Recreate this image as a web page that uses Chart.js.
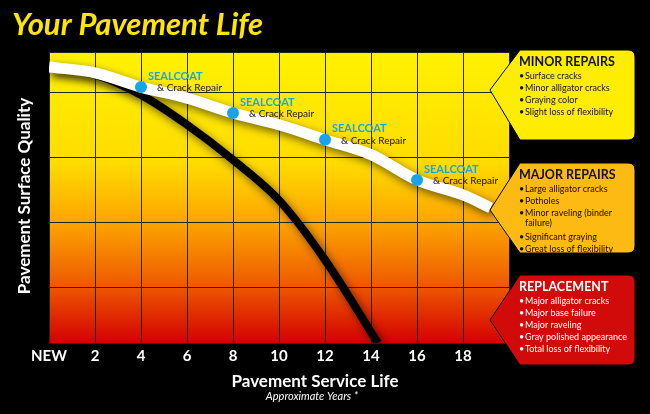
<!DOCTYPE html>
<html><head><meta charset="utf-8">
<script src="https://cdn.jsdelivr.net/npm/chart.js@4"></script>
<style>html,body{margin:0;background:#000}#c{display:block}</style>
</head><body>
<canvas id="c" width="650" height="414"></canvas>
<script>
const treatedYears = [0,2,4,6,8,10,12,14,16,18,19.2];
const treatedQuality = [3.40,3.31,3.09,2.92,2.69,2.51,2.28,2.05,1.66,1.43,1.23];
const untreatedYears = [0,2,4,6,8,10,12,14.3];
const untreatedQuality = [3.40,3.28,2.97,2.51,1.97,1.35,0.43,-0.85];
const sealcoatYears = [4,8,12,16];
const sealcoatQuality = [3.09,2.69,2.28,1.66];
const xTickLabels = {0:'NEW',2:'2',4:'4',6:'6',8:'8',10:'10',12:'12',14:'14',16:'16',18:'18'};
const boxes = [
 {title:'MINOR REPAIRS', items:['Surface cracks','Minor alligator cracks','Graying color','Slight loss of flexibility'], fill:'#ffed00', text:'#111', y0:50, y1:140, tip:90},
 {title:'MAJOR REPAIRS', items:['Large alligator cracks','Potholes','Minor raveling (binder','failure)','Significant graying','Great loss of flexibility'], fill:'#fdba12', text:'#111', y0:163, y1:253, tip:210},
 {title:'REPLACEMENT', items:['Major alligator cracks','Major base failure','Major raveling','Gray polished appearance','Total loss of flexibility'], fill:'#d10a0a', text:'#fff', y0:275, y1:365, tip:320}
];
const F = 'Lato, "Open Sans", sans-serif';
const pts = (xs,ys)=>xs.map((x,i)=>({x,y:ys[i]}));

const deco = {
 id:'deco',
 beforeDraw(ch){
  const c=ch.ctx, a=ch.chartArea;
  c.save(); c.fillStyle='#000'; c.fillRect(0,0,ch.width,ch.height);
  const g=c.createLinearGradient(0,a.top,0,a.bottom);
  g.addColorStop(0,'#fff200'); g.addColorStop(0.38,'#ffdc00'); g.addColorStop(0.6,'#fca000');
  g.addColorStop(0.8,'#ee5a00'); g.addColorStop(1,'#d40000');
  c.fillStyle=g; c.fillRect(a.left,a.top,a.right-a.left,a.bottom-a.top);
  c.restore();
 },
 beforeDatasetDraw(ch,args){
  const c=ch.ctx; c.save();
  if(args.index<2){c.shadowColor='rgba(0,0,0,0.55)';c.shadowBlur=8;c.shadowOffsetX=3;c.shadowOffsetY=4;}
 },
 afterDatasetDraw(ch){ch.ctx.restore();},
 afterDraw(ch){
  const c=ch.ctx, xs=ch.scales.x, ys=ch.scales.y;
  c.save();
  // sealcoat labels
  sealcoatYears.forEach((yr,i)=>{
   const px=xs.getPixelForValue(yr), py=ys.getPixelForValue(sealcoatQuality[i]);
   c.textBaseline='middle'; c.textAlign='left';
   c.fillStyle='#16a6e6'; c.font='bold 11px '+F; c.fillText('SEALCOAT',px+7,py-11);
   c.fillStyle='#111'; c.font='10px '+F; c.fillText('& Crack Repair',px+16,py+1);
  });
  // title
  c.fillStyle='#ffe600'; c.font='italic bold 31px '+F; c.textAlign='left'; c.textBaseline='alphabetic';
  c.fillText('Your Pavement Life',12,35);
  // axis titles
  c.fillStyle='#fff'; c.textAlign='center';
  c.font='bold 17px '+F; c.fillText('Pavement Service Life',ch.chartArea.left+(ch.chartArea.right-ch.chartArea.left)/2+36,387);
  c.font='italic 11px '+F; c.fillText('Approximate Years *',312,400);
  c.save(); c.translate(30,196); c.rotate(-Math.PI/2); c.font='bold 17px '+F; c.fillText('Pavement Surface Quality',0,0); c.restore();
  // boxes
  boxes.forEach(b=>{
   const x0=513,x1=635,r=7,tx=490;
   c.beginPath();
   c.moveTo(x0+r,b.y0); c.lineTo(x1-r,b.y0); c.quadraticCurveTo(x1,b.y0,x1,b.y0+r);
   c.lineTo(x1,b.y1-r); c.quadraticCurveTo(x1,b.y1,x1-r,b.y1); c.lineTo(x0+r,b.y1);
   c.lineTo(tx,b.tip); c.closePath();
   c.fillStyle=b.fill; c.fill(); c.strokeStyle='#000'; c.lineWidth=1; c.stroke();
   c.fillStyle=b.text; c.textAlign='left'; c.textBaseline='alphabetic';
   c.font='bold 12.5px '+F; c.fillText(b.title,519,b.y0+16);
   c.font='9px '+F;
   let y=b.y0+29;
   b.items.forEach(t=>{
    if(t==='failure)'){c.fillText(t,525,y-2); y+=12; return;}
    c.fillText('•',519,y); c.fillText(t,525,y); y+=12;
   });
  });
  c.restore();
 }
};

new Chart(document.getElementById('c'),{
 type:'line',
 data:{datasets:[
  {data:pts(treatedYears,treatedQuality),borderColor:'#fff',borderWidth:11,tension:0.35,pointRadius:0,order:1},
  {data:pts(untreatedYears,untreatedQuality),borderColor:'#000',borderWidth:8,tension:0.35,pointRadius:0,order:2},
  {data:pts(sealcoatYears,sealcoatQuality),showLine:false,pointRadius:6,pointBackgroundColor:'#1aa3e6',pointBorderWidth:0,order:0}
 ]},
 options:{
  responsive:false,animation:false,
  layout:{padding:{left:49,right:141,top:52,bottom:0}},
  plugins:{legend:{display:false},tooltip:{enabled:false}},
  scales:{
   x:{type:'linear',min:0,max:20,
      afterFit:s=>{s.height=71;},
      afterBuildTicks:s=>{s.ticks=[0,2,4,6,8,10,12,14,16,18,20].map(v=>({value:v}));},
      ticks:{color:'#fff',font:{family:F,weight:'bold',size:15},padding:4,maxRotation:0,autoSkip:false,
        callback:v=>xTickLabels[v]??''},
      grid:{color:'#222',lineWidth:1,drawTicks:false},border:{display:false}},
   y:{min:-0.85,max:3.63,
      afterFit:s=>{s.width=0;},
      afterBuildTicks:s=>{s.ticks=[-0.85,0,1,2,3,3.63].map(v=>({value:v}));},
      ticks:{display:false},
      grid:{color:'#222',lineWidth:1,drawTicks:false},border:{display:false}}
  }
 },
 plugins:[deco]
});
</script>
</body></html>
